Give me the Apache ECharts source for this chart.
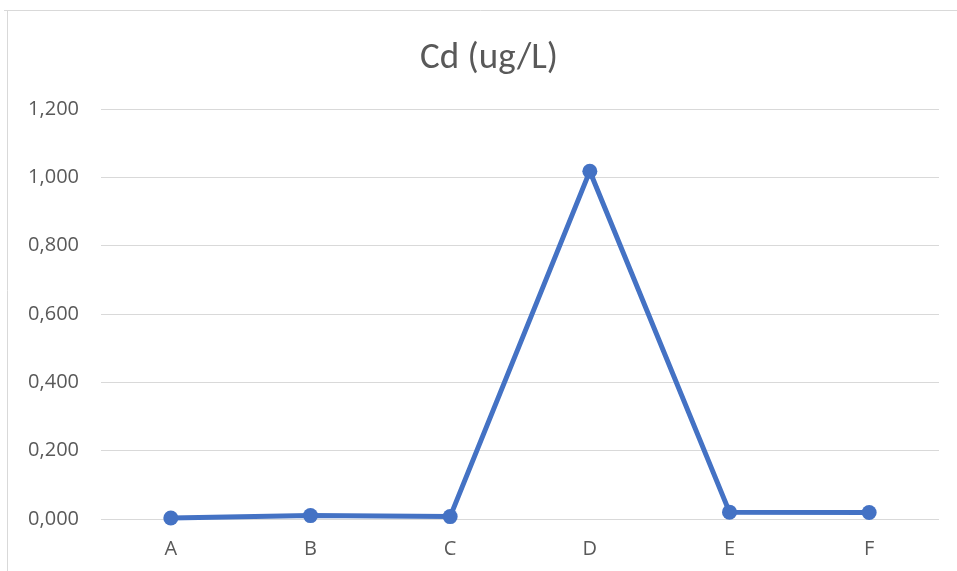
<!DOCTYPE html>
<html>
<head>
<meta charset="utf-8">
<script src="https://cdn.jsdelivr.net/npm/echarts@6/dist/echarts.min.js"></script>
<style>
  html, body { margin: 0; padding: 0; background: #fff; }
  #chart { width: 957px; height: 571px; }
</style>
</head>
<body>
<div id="chart"></div>
<script>
// Sampling sites and cadmium concentration (ug/L)
const categories = ['A', 'B', 'C', 'D', 'E', 'F'];
const cdValues = [0.003, 0.010, 0.007, 1.018, 0.020, 0.019];
const yTicks = { min: 0, max: 1.2, interval: 0.2 };
const titleText = 'Cd (ug/L)';

const chart = echarts.init(document.getElementById('chart'), null, { renderer: 'canvas' });
const textColor = '#595959';
const labelFont = '"Open Sans", "Liberation Sans", sans-serif';
const titleFont = 'Carlito, Calibri, "Open Sans", sans-serif';

chart.setOption({
  animation: false,
  backgroundColor: '#fff',
  title: {
    text: titleText,
    left: 415,
    top: 35,
    textStyle: { color: textColor, fontSize: 37, fontWeight: 'normal', fontFamily: titleFont }
  },
  graphic: [
    // chart-area frame (top and left edges)
    { type: 'line', shape: { x1: 4, y1: 10.5, x2: 957, y2: 10.5 }, style: { stroke: '#d9d9d9', lineWidth: 1 }, silent: true },
    { type: 'line', shape: { x1: 7.5, y1: 10, x2: 7.5, y2: 571 }, style: { stroke: '#d9d9d9', lineWidth: 1 }, silent: true }
  ],
  grid: { left: 101, right: 18, top: 109, bottom: 52, containLabel: false },
  xAxis: {
    type: 'category',
    data: categories,
    boundaryGap: true,
    axisLine: { show: false },
    axisTick: { show: false },
    axisLabel: { color: textColor, fontSize: 20, margin: 20, fontFamily: labelFont }
  },
  yAxis: {
    type: 'value',
    min: yTicks.min,
    max: yTicks.max,
    interval: yTicks.interval,
    axisLine: { show: false },
    axisTick: { show: false },
    splitLine: { lineStyle: { color: '#d9d9d9', width: 1 } },
    axisLabel: {
      color: textColor,
      fontSize: 20,
      margin: 22,
      fontFamily: labelFont,
      formatter: v => v.toFixed(3).replace('.', ',')
    }
  },
  series: [{
    type: 'line',
    data: cdValues,
    symbol: 'circle',
    symbolSize: 15,
    lineStyle: { color: '#4472C4', width: 5 },
    itemStyle: { color: '#4472C4' }
  }]
});
</script>
</body>
</html>
